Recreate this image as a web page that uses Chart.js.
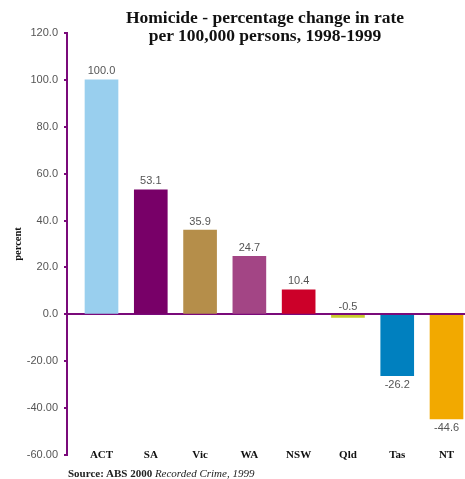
<!DOCTYPE html>
<html>
<head>
<meta charset="utf-8">
<script src="https://cdn.jsdelivr.net/npm/chart.js@4/dist/chart.umd.min.js"></script>
<style>
  html, body { margin: 0; padding: 0; background: #fff; }
  #wrap { position: relative; width: 465px; height: 479px; }
  #c { position: absolute; left: 0; top: 0; }
  #title {
    position: absolute; left: 65px; width: 400px; top: 8px;
    text-align: center; font-family: "Liberation Serif", serif; font-weight: bold;
    font-size: 17.5px; line-height: 18px; color: #111;
  }
  #source {
    position: absolute; left: 68px; top: 467px;
    font-family: "Liberation Serif", serif; font-weight: bold; font-size: 11px; line-height: 13px; color: #222;
  }
  #source i { font-weight: normal; }
</style>
</head>
<body>
<div id="wrap">
  <canvas id="c" width="465" height="479"></canvas>
  <div id="title">Homicide - percentage change in rate<br>per 100,000 persons, 1998-1999</div>
  <div id="source">Source: ABS 2000 <i>Recorded Crime, 1999</i></div>
</div>
<script>
// States and territories, percentage change in homicide rate 1998-1999
const categories = ['ACT', 'SA', 'Vic', 'WA', 'NSW', 'Qld', 'Tas', 'NT'];
const changes = [100.0, 53.1, 35.9, 24.7, 10.4, -0.5, -26.2, -44.6];
const barColours = ['#99cfee', '#780068', '#b58e4a', '#a34585', '#cc0029', '#c8cc2c', '#0080bf', '#f2a900'];
const yTicks = [120, 100, 80, 60, 40, 20, 0, -20, -40, -60];

const AXIS = '#7a0a7a';

// writes each bar's value beside its end, and the category names along the bottom
const barText = {
  id: 'barText',
  afterDatasetsDraw(chart) {
    const ctx = chart.ctx;
    const meta = chart.getDatasetMeta(0);
    const xs = chart.scales.x;
    ctx.save();
    ctx.font = '11px "Liberation Sans", Arial, sans-serif';
    ctx.fillStyle = '#555';
    ctx.textAlign = 'center';
    meta.data.forEach((bar, i) => {
      const v = changes[i];
      const txt = v.toFixed(1);
      if (v < -5) {
        ctx.textBaseline = 'top';
        ctx.fillText(txt, bar.x, bar.y + 4);
      } else {
        ctx.textBaseline = 'bottom';
        ctx.fillText(txt, bar.x, Math.min(bar.y, bar.base) - 3);
      }
    });
    ctx.font = 'bold 11px "Liberation Serif", serif';
    ctx.fillStyle = '#111';
    ctx.textBaseline = 'middle';
    categories.forEach((name, i) => {
      ctx.fillText(name, xs.getPixelForValue(i), chart.chartArea.bottom);
    });
    ctx.restore();
  }
};

new Chart(document.getElementById('c'), {
  type: 'bar',
  data: {
    datasets: [{
      data: changes.map((v, i) => ({ x: i, y: v })),
      backgroundColor: barColours,
      borderWidth: 0,
      barThickness: 33,
      minBarLength: 3
    }]
  },
  options: {
    responsive: false,
    animation: false,
    layout: { padding: { top: 33, right: 0, bottom: 0, left: 0 } },
    plugins: { legend: { display: false }, tooltip: { enabled: false } },
    scales: {
      x: {
        type: 'linear',
        offset: false,
        min: -0.7,
        max: 7.375,
        afterBuildTicks(scale) { scale.ticks = categories.map((_, i) => ({ value: i })); },
        afterFit(scale) { scale.height = 24; },
        grid: { display: false, drawTicks: false },
        border: { display: false },
        ticks: { display: false }
      },
      y: {
        min: -60,
        max: 120,
        afterBuildTicks(scale) { scale.ticks = yTicks.map(v => ({ value: v })); },
        afterFit(scale) { scale.width = 67; },
        border: { display: true, color: AXIS, width: 2 },
        grid: {
          drawOnChartArea: true,
          drawTicks: true,
          tickLength: 3,
          color: (c) => (c.tick && c.tick.value === 0) ? AXIS : 'rgba(0,0,0,0)',
          tickColor: AXIS,
          lineWidth: 2
        },
        ticks: {
          padding: 6,
          color: '#555',
          font: { family: '"Liberation Sans", Arial, sans-serif', size: 11 },
          callback: (v) => v < 0 ? v.toFixed(2) : v.toFixed(1)
        },
        title: {
          display: true,
          text: 'percent',
          color: '#111',
          font: { family: '"Liberation Serif", serif', weight: 'bold', size: 10.5 },
          padding: { top: 12, bottom: 0 }
        }
      }
    }
  },
  plugins: [barText]
});
</script>
</body>
</html>
